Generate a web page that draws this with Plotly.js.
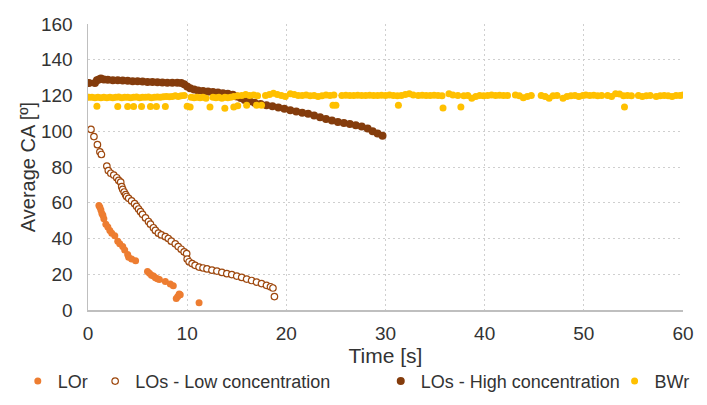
<!DOCTYPE html>
<html>
<head>
<meta charset="utf-8">
<script src="https://cdn.plot.ly/plotly-3.0.1.min.js"></script>
<style>html,body{margin:0;padding:0;background:#fff;}#chart{width:707px;height:405px;}</style>
</head>
<body>
<div id="chart"></div>
<script>
// ---- Data ----
const seriesNames = ["LOr", "LOs - Low concentration", "LOs - High concentration", "BWr"];

const lorX = [1.1, 1.2, 1.3, 1.4, 1.5, 1.6, 1.8, 2.0, 2.2, 2.4, 2.7, 3.0, 3.2, 3.5, 3.7, 4.0, 4.1, 4.4, 4.8, 6.0, 6.2, 6.4, 6.6, 6.8, 7.0, 7.2, 7.8, 8.3, 8.6, 8.9, 9.05, 9.2, 9.3, 11.2];
const lorY = [58.5, 57.5, 56, 54, 53, 51, 48, 46.5, 44.5, 43, 41.5, 38.5, 37, 35.5, 33.5, 31, 29.5, 28.5, 27.5, 21.5, 20.5, 19.5, 19, 18, 17.5, 17, 16, 14.5, 13.5, 6.5, 7.5, 9, 8.5, 4];

const lowX = [0.3, 0.6, 0.95, 1.2, 1.35, 1.9, 2.05, 2.3, 2.6, 2.9, 3.1, 3.3, 3.4, 3.5, 3.65, 3.8, 3.9, 4.1, 4.4, 4.7, 4.9, 5.1, 5.3, 5.5, 5.8, 6.1, 6.3, 6.6, 6.8, 7.1, 7.4, 7.8, 8.1, 8.4, 8.8, 9.1, 9.4, 9.7, 9.95, 10.0, 10.2, 10.5, 10.8, 11.2, 11.6, 12.0, 12.5, 13.0, 13.5, 14.0, 14.5, 15.0, 15.5, 16.0, 16.5, 17.0, 17.5, 18.0, 18.4, 18.65, 18.8];
const lowY = [101, 97, 92.5, 88.5, 87, 80.5, 78, 76.5, 75.5, 74, 72.5, 71.5, 69, 67.5, 66, 64.5, 63.5, 62.5, 61, 59.5, 58, 56.5, 55, 53.5, 51.5, 49.5, 48, 46, 44.5, 43, 42, 41, 40, 38.5, 37, 35.5, 34, 32.5, 31.5, 28.5, 27, 26, 25, 24, 23.5, 23, 22.3, 21.8, 21, 20.3, 19.8, 19, 18.2, 17.3, 16.5, 15.6, 14.8, 13.8, 13, 12.3, 7.5];

const highX = [0.1, 0.7, 0.9, 1.1, 1.3, 1.6, 2.0, 2.5, 3.0, 3.5, 4.0, 4.5, 5.0, 5.5, 6.0, 6.5, 7.0, 7.5, 8.0, 8.5, 9.0, 9.4, 9.7, 10.0, 10.3, 10.7, 11.1, 11.6, 12.1, 12.6, 13.1, 13.6, 14.1, 14.6, 15.0, 15.4, 15.8, 16.3, 16.8, 17.4, 18.0, 18.6, 19.2, 19.8, 20.4, 21.0, 21.6, 22.2, 22.8, 23.4, 24.0, 24.6, 25.2, 25.8, 26.4, 27.0, 27.6, 28.2, 28.7, 29.2, 29.7];
const highY = [127, 127, 128.5, 129, 129.5, 129, 128.8, 128.6, 128.5, 128.4, 128.2, 128, 128, 127.8, 127.6, 127.5, 127.4, 127.3, 127.2, 127.2, 127.1, 127, 126.3, 125, 124, 123.3, 122.8, 122.5, 122.3, 122, 121.7, 121.3, 121, 120.4, 119.5, 118.6, 117.5, 116.8, 116, 115.2, 114.6, 114, 113.3, 112.6, 111.8, 111, 110.4, 109.8, 108.8, 107.8, 106.8, 106, 105.2, 104.6, 104, 103.3, 102.6, 101.5, 100, 98.8, 97.5];

const bwrX = [0.1, 0.4, 0.7, 1.0, 1.3, 1.6, 1.9, 2.2, 2.5, 2.8, 3.1, 3.4, 3.7, 4.0, 4.3, 4.6, 4.9, 5.2, 5.5, 5.8, 6.1, 6.4, 6.7, 7.0, 7.3, 7.6, 7.9, 8.2, 8.5, 8.8, 9.1, 9.4, 9.7,
  10.4, 10.7, 11.0, 11.3, 11.6, 11.9, 12.6, 12.9, 13.2, 13.5, 13.8, 14.1, 14.4, 14.7, 15.1, 15.5, 15.9, 16.3, 16.7, 17.1,
  17.9, 18.3, 18.7, 19.1, 19.5, 19.9, 20.4, 20.8, 21.2, 21.6, 22.0, 22.4, 22.8, 23.2, 23.6, 24.0, 24.4, 24.8,
  25.6, 26.0, 26.4, 26.8, 27.2, 27.6, 28.0, 28.4, 28.8, 29.2, 29.6, 30.0, 30.4, 30.8, 31.2, 31.6, 32.0, 32.4,
  32.8, 33.3, 33.7, 34.1, 34.5, 34.9, 35.3, 35.7, 36.4, 36.8, 37.3, 37.9, 38.3, 38.7, 39.1, 39.5, 39.9, 40.3, 40.7, 41.1, 41.5, 41.9, 42.3,
  43.1, 43.5, 43.9, 44.3, 44.7, 45.7, 46.1, 46.5, 46.9, 47.3, 47.9, 48.3, 48.7, 49.1, 49.5, 49.9, 50.2, 50.6, 51.0, 51.4, 51.8,
  52.4, 52.8, 53.2, 53.6, 54.0, 54.4, 54.8, 55.5, 55.9, 56.3, 56.7, 57.3, 57.7, 58.1, 58.5, 58.9, 59.3, 59.7, 60.0,
  0.9, 3.0, 4.0, 4.6, 5.4, 6.3, 6.9, 7.8, 10.0, 10.3, 12.3, 13.8, 14.7, 15.1, 16.0, 17.0, 17.5, 24.7, 25.0, 31.3, 35.8, 37.6, 54.1];
const bwrY = [119, 119, 118.8, 119, 118.8, 119, 118.8, 119, 118.8, 119, 119.2, 118.8, 119, 119, 118.8, 119, 119.2, 118.8, 119, 119, 119.2, 118.8, 119, 119.2, 119, 119.3, 119.5, 119.3, 119.5, 119.8, 119.5, 119.8, 120,
  119, 118.8, 119, 118.8, 119, 118.5, 119, 118.8, 119, 118.5, 119, 118.8, 119, 119.5, 119.8, 120, 120.5, 120, 120.3, 119.8,
  120, 120.5, 121.3, 120.5, 120, 119.5, 121, 120.5, 120, 120, 120.3, 119.8, 120, 119.5, 119.8, 120.3, 120, 120.3,
  120, 120.2, 120, 120, 120.2, 120, 120, 120.2, 120, 120, 120.2, 120, 120.3, 120, 119.8, 120, 120.5, 121,
  120.3, 120, 120.2, 120, 120, 120.2, 120, 119.8, 121, 120.3, 120, 119.8, 120, 118.5, 119.5, 120, 119.8, 120, 120.3, 120, 120.2, 120, 120,
  120.3, 119.8, 118.8, 119.5, 120, 120, 119.5, 118.5, 119.8, 120, 118.5, 119.5, 119.8, 120, 119.5, 120, 120.3, 120, 120.2, 119.8, 120,
  120, 119.5, 121, 120.8, 119.8, 120, 119.8, 120, 119.5, 119.8, 120, 119.5, 119.8, 120, 119.8, 119.5, 120, 120, 120.3,
  114, 113.8, 113.8, 113.8, 113.8, 113.8, 113.8, 113.8, 114, 113.6, 113.6, 112.8, 113.6, 114.3, 114.5, 114.5, 114.5, 114.5, 114.5, 114.5, 113, 113.6, 113.6];

// ---- Chart ----
const textColor = "#333333";
const traces = [
  {x: lorX, y: lorY, name: seriesNames[0], type: "scatter", mode: "markers", legend: "legend",
   marker: {color: "#ED7D31", size: 7, line: {width: 0}}},
  {x: lowX, y: lowY, name: seriesNames[1], type: "scatter", mode: "markers", legend: "legend2",
   marker: {color: "#ffffff", size: 6.5, line: {color: "#9E480E", width: 1.2}}},
  {x: highX, y: highY, name: seriesNames[2], type: "scatter", mode: "markers", legend: "legend3",
   marker: {color: "#843C0C", size: 8, line: {width: 0}}},
  {x: bwrX, y: bwrY, name: seriesNames[3], type: "scatter", mode: "markers", legend: "legend4",
   marker: {color: "#FFC000", size: 7, line: {width: 0}}}
];

function legendAt(xPaper) {
  return {orientation: "h", x: xPaper, xanchor: "left", y: -0.185, yanchor: "top",
          font: {size: 18, color: textColor}, bgcolor: "rgba(0,0,0,0)"};
}

const layout = {
  width: 707, height: 405,
  margin: {l: 88, r: 24, t: 24, b: 95, autoexpand: false},
  paper_bgcolor: "#ffffff", plot_bgcolor: "#ffffff",
  font: {family: "Liberation Sans, Arial, sans-serif", size: 19, color: textColor},
  showlegend: true,
  legend: legendAt(-0.118),
  legend2: legendAt(0.012),
  legend3: legendAt(0.492),
  legend4: legendAt(0.885),
  xaxis: {
    range: [0, 60], dtick: 10, tick0: 0,
    showgrid: true, gridcolor: "#CFCFCF", griddash: "2px,3px", gridwidth: 1,
    zeroline: false, showline: true, linecolor: "#BFBFBF", linewidth: 1.5,
    ticks: "", ticklabelstandoff: 6, tickfont: {size: 19, color: textColor},
    title: {text: "Time [s]", font: {size: 21, color: textColor}, standoff: 4}
  },
  yaxis: {
    range: [0, 160], dtick: 20, tick0: 0,
    showgrid: true, gridcolor: "#CFCFCF", griddash: "2px,3px", gridwidth: 1,
    zeroline: false, showline: true, linecolor: "#BFBFBF", linewidth: 1.5,
    ticks: "", ticklabelstandoff: 10, tickfont: {size: 19, color: textColor},
    title: {text: "Average CA [º]", font: {size: 20, color: textColor}, standoff: 0}
  }
};

Plotly.newPlot("chart", traces, layout, {staticPlot: true, displayModeBar: false});
</script>
</body>
</html>
